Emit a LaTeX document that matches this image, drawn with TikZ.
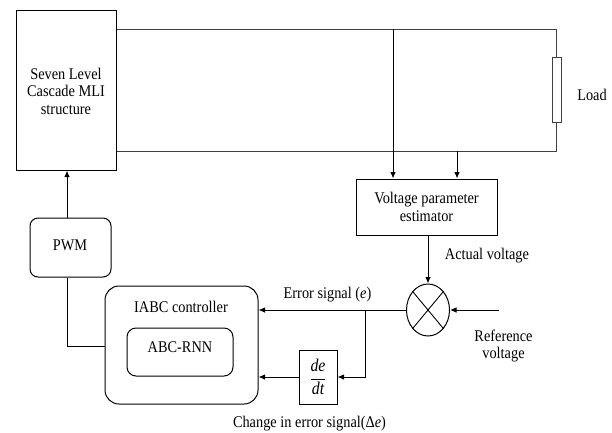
\documentclass[tikz,border=0pt]{standalone}
\usepackage{fontspec}
\setmainfont{Liberation Serif}[FakeStretch=0.88]
\usetikzlibrary{arrows.meta,shapes.geometric}
\begin{document}
\begin{tikzpicture}[x=1pt,y=-1pt,
  every node/.style={font=\fontsize{16.3}{17.5}\selectfont},
  box/.style={draw,line width=1pt,inner sep=0pt,align=center},
  rbox/.style={box,rounded corners=#1},
  wire/.style={line width=1pt,draw=black!75},
  arr/.style={line width=1pt,-{Latex[length=6.5pt,width=5.5pt]}},
  lbl/.style={inner sep=0pt,align=center}]
\useasboundingbox (0,0) rectangle (612,432);
% blocks
\node[box,minimum width=100pt,minimum height=160pt] (mli) at (66,90) {};
\node[lbl] (mlit) at (66,91) {Seven Level\\Cascade MLI\\structure};
\node[rbox=8pt,minimum width=81pt,minimum height=59pt] (pwm) at (70.5,247.5) {};
\node[lbl] (pwmt) at (70,245) {PWM};
\node[rbox=14pt,minimum width=153pt,minimum height=118pt] (iabc) at (181.5,345) {};
\node[lbl] (iabct) at (181,307) {IABC controller};
\node[rbox=9pt,minimum width=106pt,minimum height=48pt] (abc) at (180,352) {};
\node[lbl] (abct) at (180,347) {ABC-RNN};
\node[box,minimum width=141pt,minimum height=56pt] (vpe) at (426.5,207) {Voltage parameter\\estimator};
\node[draw,ellipse,line width=1pt,minimum width=43pt,minimum height=52pt,inner sep=0pt] (sum) at (428,310) {};
\draw[line width=0.9pt] (sum.north west) -- (sum.south east) (sum.north east) -- (sum.south west);
\node[box,minimum width=38pt,minimum height=54pt,font=\fontsize{18}{20}\selectfont] (der) at (318,377) {$\displaystyle\frac{\textit{de}}{\textit{dt}}$};
\node[box,draw=black!75,minimum width=9pt,minimum height=65pt] (load) at (556.5,89.5) {};
% labels
\node[lbl] (loadt) at (592,95) {Load};
\node[lbl] (actt) at (487,256) {Actual voltage};
\node[lbl] (reft) at (503.5,346) {Reference\\voltage};
\node[lbl] (errt) at (327.5,295) {Error signal (\textit{e})};
\node[lbl] (chgt) at (309.5,424) {Change in error signal(Δ\textit{e})};
% coordinates
\coordinate (tr) at (556.5,29);
\coordinate (br) at (556.5,151);
\coordinate (t1) at (393,29);
\coordinate (b1) at (457,151);
\coordinate (refin) at (499,310);
\coordinate (br1) at (365,310);
\coordinate (pw1) at (67,346);
% wires
\draw[wire] (mli.east |- tr) -- (tr) -- (load.north);
\draw[wire] (mli.east |- br) -- (br) -- (load.south);
\draw[arr] (t1) -- (t1 |- vpe.north);
\draw[arr] (b1) -- (b1 |- vpe.north);
\draw[arr] (vpe.south -| sum.north) -- (sum.north);
\draw[arr] (refin) -- (sum.east);
\draw[arr] (sum.west) -- (iabc.east |- sum.west);
\draw[arr] (br1) -- (br1 |- der.east) -- (der.east);
\draw[arr] (der.west) -- (iabc.east |- der.west);
\draw[arr] (pwm.north -| pw1) -- (mli.south -| pw1);
\draw[line width=1pt] (pwm.south -| pw1) -- (pw1) -- (iabc.west |- pw1);
\end{tikzpicture}
\end{document}
